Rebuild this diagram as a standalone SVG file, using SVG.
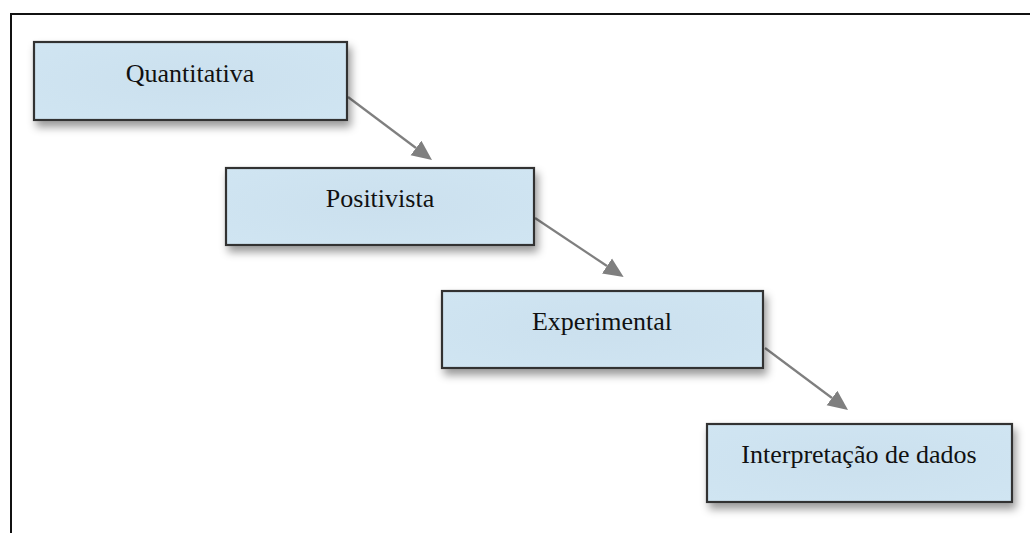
<svg xmlns="http://www.w3.org/2000/svg" width="1030" height="533" viewBox="0 0 1030 533">
  <style>
    .box { fill: url(#boxfill); stroke: #333333; stroke-width: 2.2; filter: url(#shadow); }
    .lbl { font-family: "Liberation Serif", "Times New Roman", serif; font-size: 26px; fill: #111111; text-anchor: middle; }
    .conn { stroke: #7f7f7f; stroke-width: 2.2; fill: none; marker-end: url(#head); }
    .frame { stroke: #111111; stroke-width: 2; fill: none; }
  </style>
  <defs>
    <radialGradient id="boxfill" cx="0.5" cy="0.5" r="0.7">
      <stop offset="0" stop-color="#cbe0ee"/>
      <stop offset="1" stop-color="#d0e5f2"/>
    </radialGradient>
    <filter id="shadow" x="-10%" y="-20%" width="130%" height="160%">
      <feDropShadow dx="3" dy="6" stdDeviation="4" flood-color="#000000" flood-opacity="0.4"/>
    </filter>
    <marker id="head" markerUnits="userSpaceOnUse" viewBox="0 -10 22 20" refX="0" refY="0" markerWidth="22" markerHeight="20" orient="auto">
      <path d="M0,-9 L20,0 L0,9 Z" fill="#7f7f7f"/>
    </marker>
  </defs>
  <path class="frame" d="M11,533 V14 H1030"/>
  <g id="connectors">
    <line class="conn" x1="348" y1="97" x2="416" y2="148"/>
    <line class="conn" x1="535" y1="218" x2="607" y2="266"/>
    <line class="conn" x1="765" y1="348" x2="832" y2="398"/>
  </g>
  <g id="node-quantitativa">
    <rect class="box" x="34" y="42" width="313" height="78"/>
    <text class="lbl" x="190" y="82">Quantitativa</text>
  </g>
  <g id="node-positivista">
    <rect class="box" x="226" y="168" width="308" height="77"/>
    <text class="lbl" x="380" y="207">Positivista</text>
  </g>
  <g id="node-experimental">
    <rect class="box" x="442" y="291" width="321" height="77"/>
    <text class="lbl" x="602" y="330">Experimental</text>
  </g>
  <g id="node-interpretacao">
    <rect class="box" x="707" y="424" width="305" height="78"/>
    <text class="lbl" x="859" y="463">Interpretação de dados</text>
  </g>
</svg>
